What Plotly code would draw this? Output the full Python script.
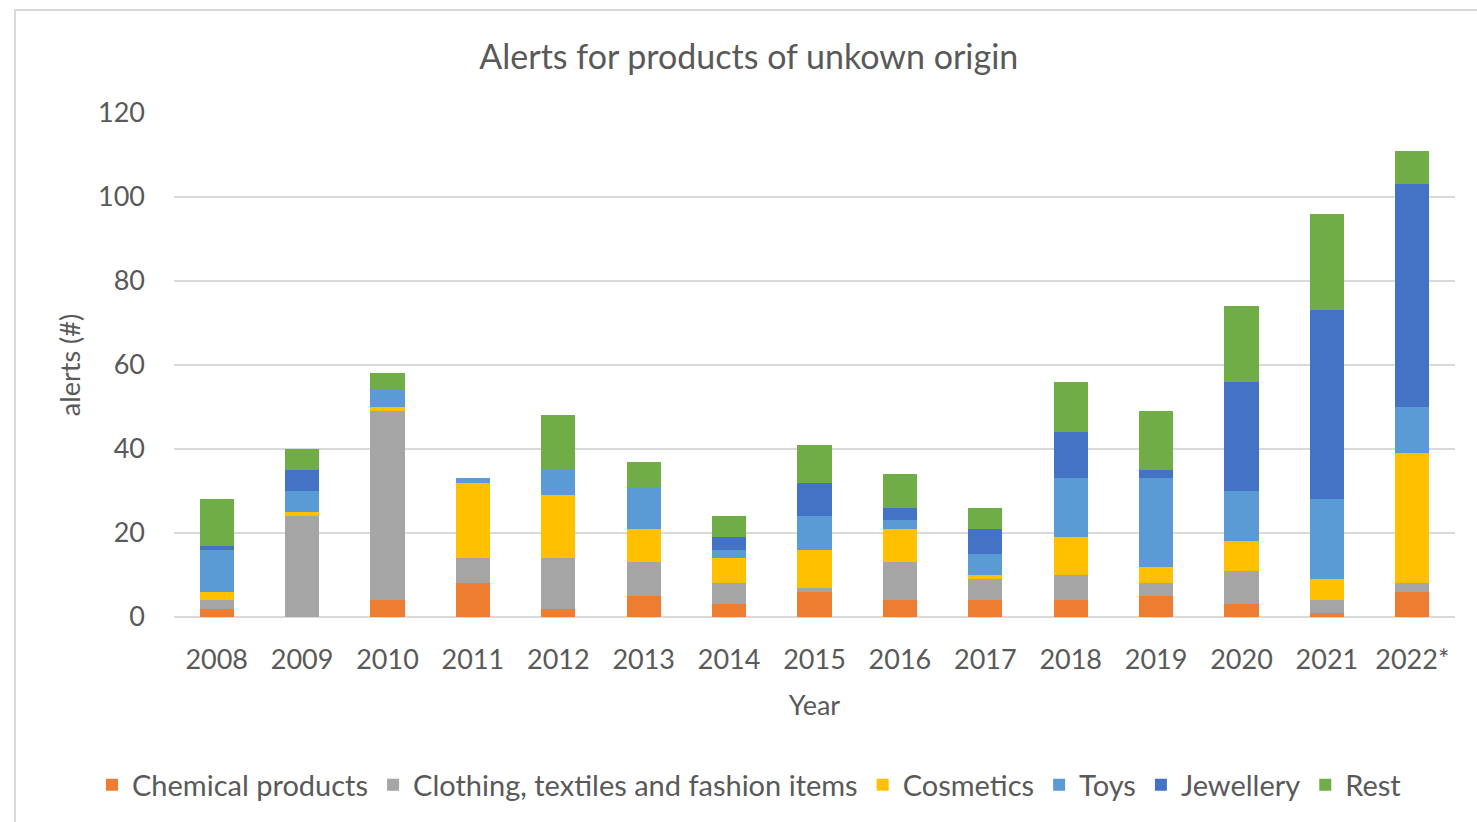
import plotly.graph_objects as go

# Alerts per year, stacked by product category
years = ["2008", "2009", "2010", "2011", "2012", "2013", "2014", "2015",
         "2016", "2017", "2018", "2019", "2020", "2021", "2022*"]

chemical = [2, 0, 4, 8, 2, 5, 3, 6, 4, 4, 4, 5, 3, 1, 6]
clothing = [2, 24, 45, 6, 12, 8, 5, 1, 9, 5, 6, 3, 8, 3, 2]
cosmetics = [2, 1, 1, 18, 15, 8, 6, 9, 8, 1, 9, 4, 7, 5, 31]
toys = [10, 5, 4, 1, 6, 10, 2, 8, 2, 5, 14, 21, 12, 19, 11]
jewellery = [1, 5, 0, 0, 0, 0, 3, 8, 3, 6, 11, 2, 26, 45, 53]
rest = [11, 5, 4, 0, 13, 6, 5, 9, 8, 5, 12, 14, 18, 23, 8]

series = [
    ("Chemical products", chemical, "#ED7D31"),
    ("Clothing, textiles and fashion items", clothing, "#A5A5A5"),
    ("Cosmetics", cosmetics, "#FFC000"),
    ("Toys", toys, "#5B9BD5"),
    ("Jewellery", jewellery, "#4472C4"),
    ("Rest", rest, "#70AD47"),
]

FONT = "Lato"
TEXT = "#595959"

fig = go.Figure()
for name, vals, color in series:
    fig.add_trace(go.Bar(
        name=name, x=years, y=vals,
        marker=dict(color=color, line=dict(width=0)),
    ))

fig.update_layout(
    barmode="stack",
    bargap=0.6,
    width=1477, height=822,
    margin=dict(l=174, r=22, t=113, b=205, autoexpand=False),
    paper_bgcolor="white",
    plot_bgcolor="white",
    font=dict(family=FONT, color=TEXT, size=27),
    title=dict(
        text="Alerts for products of unkown origin",
        x=0.507, xref="container", xanchor="center",
        y=1 - 57 / 822, yref="container", yanchor="middle",
        font=dict(family=FONT, size=34, color=TEXT),
    ),
    xaxis=dict(
        title=dict(text="Year", font=dict(size=27, color=TEXT), standoff=22),
        showgrid=False, showline=False, ticks="",
        tickfont=dict(size=27, color=TEXT),
        ticklabelstandoff=24,
    ),
    yaxis=dict(
        title=dict(text="alerts (#)", font=dict(size=27, color=TEXT), standoff=9),
        range=[0, 120], dtick=20,
        showgrid=True, gridcolor="#D9D9D9", gridwidth=2,
        zeroline=True, zerolinecolor="#D9D9D9", zerolinewidth=2,
        showline=False, ticks="",
        tickfont=dict(size=27, color=TEXT),
        ticklabelstandoff=28,
    ),
    legend=dict(
        orientation="h",
        traceorder="normal",
        x=(92 - 174) / 1281, xanchor="left",
        y=(617 - 785) / 504, yanchor="middle",
        font=dict(size=29, color=TEXT),
        itemwidth=30,
        tracegroupgap=0,
    ),
    shapes=[
        dict(type="rect", xref="paper", yref="paper",
             x0=(15 - 174) / 1281, x1=1.2, y0=-0.6, y1=(617 - 10) / 504,
             line=dict(color="#D9D9D9", width=2), fillcolor="rgba(0,0,0,0)",
             layer="below"),
    ],
)

fig.write_html("out.html")
